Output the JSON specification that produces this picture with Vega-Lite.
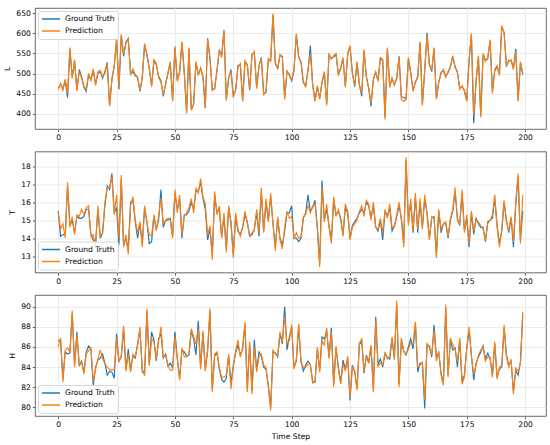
{
  "$schema": "https://vega.github.io/schema/vega-lite/v6.json",
  "padding": {"left": 3, "top": 7, "right": 5, "bottom": 2},
  "bounds": "flush",
  "spacing": 22.5,
  "config": {
    "font": "DejaVu Sans",
    "view": {"stroke": "#444", "strokeWidth": 0.8},
    "axis": {
      "domain": false,
      "labelFont": "DejaVu Sans",
      "labelFontSize": 7.6,
      "labelColor": "#000",
      "labelPadding": 2,
      "labelFlush": false,
      "labelOverlap": false,
      "tickColor": "#444",
      "tickSize": 2.7,
      "tickWidth": 0.8,
      "gridColor": "#e6e6e6",
      "gridWidth": 0.8,
      "titleFont": "DejaVu Sans",
      "titleFontSize": 7.6,
      "titleFontWeight": "normal",
      "titleColor": "#000",
      "titlePadding": 4
    },
    "legend": {
      "title": null,
      "symbolType": "stroke",
      "symbolSize": 324,
      "symbolStrokeWidth": 1.4,
      "labelFont": "DejaVu Sans",
      "labelFontSize": 7.6,
      "labelColor": "#000",
      "labelOffset": 4,
      "fillColor": "rgba(255,255,255,0.8)",
      "strokeColor": "#d6d6d6",
      "cornerRadius": 2,
      "padding": 3,
      "offset": 3,
      "clipHeight": 10,
      "rowPadding": 2
    }
  },
  "resolve": {"scale": {"color": "independent"}, "legend": {"color": "independent"}},
  "datasets": {
    "L": [
      {"t":0,"s":"Ground Truth","v":463},{"t":1,"s":"Ground Truth","v":472},{"t":2,"s":"Ground Truth","v":462},{"t":3,"s":"Ground Truth","v":482},{"t":4,"s":"Ground Truth","v":440},{"t":5,"s":"Ground Truth","v":560},{"t":6,"s":"Ground Truth","v":490},{"t":7,"s":"Ground Truth","v":530},{"t":8,"s":"Ground Truth","v":458},{"t":9,"s":"Ground Truth","v":510},
      {"t":10,"s":"Ground Truth","v":492},{"t":11,"s":"Ground Truth","v":466},{"t":12,"s":"Ground Truth","v":455},{"t":13,"s":"Ground Truth","v":497},{"t":14,"s":"Ground Truth","v":485},{"t":15,"s":"Ground Truth","v":508},{"t":16,"s":"Ground Truth","v":474},{"t":17,"s":"Ground Truth","v":500},{"t":18,"s":"Ground Truth","v":505},{"t":19,"s":"Ground Truth","v":488},
      {"t":20,"s":"Ground Truth","v":505},{"t":21,"s":"Ground Truth","v":528},{"t":22,"s":"Ground Truth","v":420},{"t":23,"s":"Ground Truth","v":485},{"t":24,"s":"Ground Truth","v":518},{"t":25,"s":"Ground Truth","v":585},{"t":26,"s":"Ground Truth","v":460},{"t":27,"s":"Ground Truth","v":595},{"t":28,"s":"Ground Truth","v":543},{"t":29,"s":"Ground Truth","v":578},
      {"t":30,"s":"Ground Truth","v":588},{"t":31,"s":"Ground Truth","v":498},{"t":32,"s":"Ground Truth","v":505},{"t":33,"s":"Ground Truth","v":494},{"t":34,"s":"Ground Truth","v":490},{"t":35,"s":"Ground Truth","v":455},{"t":36,"s":"Ground Truth","v":488},{"t":37,"s":"Ground Truth","v":572},{"t":38,"s":"Ground Truth","v":548},{"t":39,"s":"Ground Truth","v":512},
      {"t":40,"s":"Ground Truth","v":470},{"t":41,"s":"Ground Truth","v":532},{"t":42,"s":"Ground Truth","v":522},{"t":43,"s":"Ground Truth","v":493},{"t":44,"s":"Ground Truth","v":482},{"t":45,"s":"Ground Truth","v":443},{"t":46,"s":"Ground Truth","v":475},{"t":47,"s":"Ground Truth","v":500},{"t":48,"s":"Ground Truth","v":527},{"t":49,"s":"Ground Truth","v":433},
      {"t":50,"s":"Ground Truth","v":565},{"t":51,"s":"Ground Truth","v":483},{"t":52,"s":"Ground Truth","v":502},{"t":53,"s":"Ground Truth","v":577},{"t":54,"s":"Ground Truth","v":503},{"t":55,"s":"Ground Truth","v":403},{"t":56,"s":"Ground Truth","v":562},{"t":57,"s":"Ground Truth","v":410},{"t":58,"s":"Ground Truth","v":422},{"t":59,"s":"Ground Truth","v":527},
      {"t":60,"s":"Ground Truth","v":498},{"t":61,"s":"Ground Truth","v":512},{"t":62,"s":"Ground Truth","v":493},{"t":63,"s":"Ground Truth","v":413},{"t":64,"s":"Ground Truth","v":588},{"t":65,"s":"Ground Truth","v":537},{"t":66,"s":"Ground Truth","v":460},{"t":67,"s":"Ground Truth","v":462},{"t":68,"s":"Ground Truth","v":508},{"t":69,"s":"Ground Truth","v":557},
      {"t":70,"s":"Ground Truth","v":545},{"t":71,"s":"Ground Truth","v":607},{"t":72,"s":"Ground Truth","v":435},{"t":73,"s":"Ground Truth","v":487},{"t":74,"s":"Ground Truth","v":510},{"t":75,"s":"Ground Truth","v":445},{"t":76,"s":"Ground Truth","v":457},{"t":77,"s":"Ground Truth","v":520},{"t":78,"s":"Ground Truth","v":522},{"t":79,"s":"Ground Truth","v":433},
      {"t":80,"s":"Ground Truth","v":528},{"t":81,"s":"Ground Truth","v":523},{"t":82,"s":"Ground Truth","v":458},{"t":83,"s":"Ground Truth","v":548},{"t":84,"s":"Ground Truth","v":552},{"t":85,"s":"Ground Truth","v":465},{"t":86,"s":"Ground Truth","v":517},{"t":87,"s":"Ground Truth","v":540},{"t":88,"s":"Ground Truth","v":450},{"t":89,"s":"Ground Truth","v":452},
      {"t":90,"s":"Ground Truth","v":535},{"t":91,"s":"Ground Truth","v":533},{"t":92,"s":"Ground Truth","v":646},{"t":93,"s":"Ground Truth","v":525},{"t":94,"s":"Ground Truth","v":513},{"t":95,"s":"Ground Truth","v":545},{"t":96,"s":"Ground Truth","v":543},{"t":97,"s":"Ground Truth","v":438},{"t":98,"s":"Ground Truth","v":505},{"t":99,"s":"Ground Truth","v":498},
      {"t":100,"s":"Ground Truth","v":482},{"t":101,"s":"Ground Truth","v":507},{"t":102,"s":"Ground Truth","v":597},{"t":103,"s":"Ground Truth","v":543},{"t":104,"s":"Ground Truth","v":527},{"t":105,"s":"Ground Truth","v":477},{"t":106,"s":"Ground Truth","v":470},{"t":107,"s":"Ground Truth","v":507},{"t":108,"s":"Ground Truth","v":570},{"t":109,"s":"Ground Truth","v":473},
      {"t":110,"s":"Ground Truth","v":433},{"t":111,"s":"Ground Truth","v":467},{"t":112,"s":"Ground Truth","v":438},{"t":113,"s":"Ground Truth","v":477},{"t":114,"s":"Ground Truth","v":502},{"t":115,"s":"Ground Truth","v":424},{"t":116,"s":"Ground Truth","v":547},{"t":117,"s":"Ground Truth","v":538},{"t":118,"s":"Ground Truth","v":542},{"t":119,"s":"Ground Truth","v":547},
      {"t":120,"s":"Ground Truth","v":498},{"t":121,"s":"Ground Truth","v":512},{"t":122,"s":"Ground Truth","v":537},{"t":123,"s":"Ground Truth","v":468},{"t":124,"s":"Ground Truth","v":547},{"t":125,"s":"Ground Truth","v":567},{"t":126,"s":"Ground Truth","v":503},{"t":127,"s":"Ground Truth","v":467},{"t":128,"s":"Ground Truth","v":527},{"t":129,"s":"Ground Truth","v":473},
      {"t":130,"s":"Ground Truth","v":443},{"t":131,"s":"Ground Truth","v":557},{"t":132,"s":"Ground Truth","v":493},{"t":133,"s":"Ground Truth","v":462},{"t":134,"s":"Ground Truth","v":418},{"t":135,"s":"Ground Truth","v":488},{"t":136,"s":"Ground Truth","v":502},{"t":137,"s":"Ground Truth","v":483},{"t":138,"s":"Ground Truth","v":537},{"t":139,"s":"Ground Truth","v":533},
      {"t":140,"s":"Ground Truth","v":390},{"t":141,"s":"Ground Truth","v":562},{"t":142,"s":"Ground Truth","v":468},{"t":143,"s":"Ground Truth","v":487},{"t":144,"s":"Ground Truth","v":473},{"t":145,"s":"Ground Truth","v":486},{"t":146,"s":"Ground Truth","v":543},{"t":147,"s":"Ground Truth","v":442},{"t":148,"s":"Ground Truth","v":440},{"t":149,"s":"Ground Truth","v":437},
      {"t":150,"s":"Ground Truth","v":537},{"t":151,"s":"Ground Truth","v":503},{"t":152,"s":"Ground Truth","v":458},{"t":153,"s":"Ground Truth","v":477},{"t":154,"s":"Ground Truth","v":493},{"t":155,"s":"Ground Truth","v":577},{"t":156,"s":"Ground Truth","v":423},{"t":157,"s":"Ground Truth","v":507},{"t":158,"s":"Ground Truth","v":602},{"t":159,"s":"Ground Truth","v":523},
      {"t":160,"s":"Ground Truth","v":505},{"t":161,"s":"Ground Truth","v":562},{"t":162,"s":"Ground Truth","v":438},{"t":163,"s":"Ground Truth","v":477},{"t":164,"s":"Ground Truth","v":503},{"t":165,"s":"Ground Truth","v":507},{"t":166,"s":"Ground Truth","v":493},{"t":167,"s":"Ground Truth","v":502},{"t":168,"s":"Ground Truth","v":518},{"t":169,"s":"Ground Truth","v":542},
      {"t":170,"s":"Ground Truth","v":518},{"t":171,"s":"Ground Truth","v":502},{"t":172,"s":"Ground Truth","v":463},{"t":173,"s":"Ground Truth","v":467},{"t":174,"s":"Ground Truth","v":458},{"t":175,"s":"Ground Truth","v":433},{"t":176,"s":"Ground Truth","v":532},{"t":177,"s":"Ground Truth","v":597},{"t":178,"s":"Ground Truth","v":375},{"t":179,"s":"Ground Truth","v":483},
      {"t":180,"s":"Ground Truth","v":542},{"t":181,"s":"Ground Truth","v":395},{"t":182,"s":"Ground Truth","v":547},{"t":183,"s":"Ground Truth","v":533},{"t":184,"s":"Ground Truth","v":537},{"t":185,"s":"Ground Truth","v":582},{"t":186,"s":"Ground Truth","v":455},{"t":187,"s":"Ground Truth","v":507},{"t":188,"s":"Ground Truth","v":517},{"t":189,"s":"Ground Truth","v":498},
      {"t":190,"s":"Ground Truth","v":617},{"t":191,"s":"Ground Truth","v":603},{"t":192,"s":"Ground Truth","v":517},{"t":193,"s":"Ground Truth","v":533},{"t":194,"s":"Ground Truth","v":532},{"t":195,"s":"Ground Truth","v":513},{"t":196,"s":"Ground Truth","v":562},{"t":197,"s":"Ground Truth","v":433},{"t":198,"s":"Ground Truth","v":527},{"t":199,"s":"Ground Truth","v":497},
      {"t":0,"s":"Prediction","v":460},{"t":1,"s":"Prediction","v":475},{"t":2,"s":"Prediction","v":458},{"t":3,"s":"Prediction","v":486},{"t":4,"s":"Prediction","v":450},{"t":5,"s":"Prediction","v":565},{"t":6,"s":"Prediction","v":487},{"t":7,"s":"Prediction","v":535},{"t":8,"s":"Prediction","v":456},{"t":9,"s":"Prediction","v":505},
      {"t":10,"s":"Prediction","v":488},{"t":11,"s":"Prediction","v":470},{"t":12,"s":"Prediction","v":460},{"t":13,"s":"Prediction","v":500},{"t":14,"s":"Prediction","v":482},{"t":15,"s":"Prediction","v":512},{"t":16,"s":"Prediction","v":470},{"t":17,"s":"Prediction","v":505},{"t":18,"s":"Prediction","v":508},{"t":19,"s":"Prediction","v":492},
      {"t":20,"s":"Prediction","v":500},{"t":21,"s":"Prediction","v":525},{"t":22,"s":"Prediction","v":418},{"t":23,"s":"Prediction","v":488},{"t":24,"s":"Prediction","v":520},{"t":25,"s":"Prediction","v":588},{"t":26,"s":"Prediction","v":462},{"t":27,"s":"Prediction","v":598},{"t":28,"s":"Prediction","v":548},{"t":29,"s":"Prediction","v":575},
      {"t":30,"s":"Prediction","v":585},{"t":31,"s":"Prediction","v":500},{"t":32,"s":"Prediction","v":512},{"t":33,"s":"Prediction","v":497},{"t":34,"s":"Prediction","v":492},{"t":35,"s":"Prediction","v":457},{"t":36,"s":"Prediction","v":492},{"t":37,"s":"Prediction","v":575},{"t":38,"s":"Prediction","v":545},{"t":39,"s":"Prediction","v":515},
      {"t":40,"s":"Prediction","v":467},{"t":41,"s":"Prediction","v":535},{"t":42,"s":"Prediction","v":525},{"t":43,"s":"Prediction","v":490},{"t":44,"s":"Prediction","v":478},{"t":45,"s":"Prediction","v":447},{"t":46,"s":"Prediction","v":472},{"t":47,"s":"Prediction","v":502},{"t":48,"s":"Prediction","v":530},{"t":49,"s":"Prediction","v":430},
      {"t":50,"s":"Prediction","v":568},{"t":51,"s":"Prediction","v":480},{"t":52,"s":"Prediction","v":505},{"t":53,"s":"Prediction","v":580},{"t":54,"s":"Prediction","v":500},{"t":55,"s":"Prediction","v":400},{"t":56,"s":"Prediction","v":565},{"t":57,"s":"Prediction","v":408},{"t":58,"s":"Prediction","v":425},{"t":59,"s":"Prediction","v":530},
      {"t":60,"s":"Prediction","v":495},{"t":61,"s":"Prediction","v":515},{"t":62,"s":"Prediction","v":490},{"t":63,"s":"Prediction","v":417},{"t":64,"s":"Prediction","v":585},{"t":65,"s":"Prediction","v":540},{"t":66,"s":"Prediction","v":457},{"t":67,"s":"Prediction","v":465},{"t":68,"s":"Prediction","v":505},{"t":69,"s":"Prediction","v":560},
      {"t":70,"s":"Prediction","v":540},{"t":71,"s":"Prediction","v":610},{"t":72,"s":"Prediction","v":432},{"t":73,"s":"Prediction","v":490},{"t":74,"s":"Prediction","v":505},{"t":75,"s":"Prediction","v":440},{"t":76,"s":"Prediction","v":460},{"t":77,"s":"Prediction","v":515},{"t":78,"s":"Prediction","v":525},{"t":79,"s":"Prediction","v":430},
      {"t":80,"s":"Prediction","v":532},{"t":81,"s":"Prediction","v":520},{"t":82,"s":"Prediction","v":462},{"t":83,"s":"Prediction","v":545},{"t":84,"s":"Prediction","v":555},{"t":85,"s":"Prediction","v":462},{"t":86,"s":"Prediction","v":520},{"t":87,"s":"Prediction","v":537},{"t":88,"s":"Prediction","v":447},{"t":89,"s":"Prediction","v":455},
      {"t":90,"s":"Prediction","v":538},{"t":91,"s":"Prediction","v":530},{"t":92,"s":"Prediction","v":650},{"t":93,"s":"Prediction","v":528},{"t":94,"s":"Prediction","v":510},{"t":95,"s":"Prediction","v":548},{"t":96,"s":"Prediction","v":540},{"t":97,"s":"Prediction","v":435},{"t":98,"s":"Prediction","v":508},{"t":99,"s":"Prediction","v":495},
      {"t":100,"s":"Prediction","v":485},{"t":101,"s":"Prediction","v":510},{"t":102,"s":"Prediction","v":600},{"t":103,"s":"Prediction","v":540},{"t":104,"s":"Prediction","v":530},{"t":105,"s":"Prediction","v":480},{"t":106,"s":"Prediction","v":465},{"t":107,"s":"Prediction","v":510},{"t":108,"s":"Prediction","v":550},{"t":109,"s":"Prediction","v":470},
      {"t":110,"s":"Prediction","v":430},{"t":111,"s":"Prediction","v":470},{"t":112,"s":"Prediction","v":435},{"t":113,"s":"Prediction","v":480},{"t":114,"s":"Prediction","v":505},{"t":115,"s":"Prediction","v":420},{"t":116,"s":"Prediction","v":550},{"t":117,"s":"Prediction","v":535},{"t":118,"s":"Prediction","v":545},{"t":119,"s":"Prediction","v":550},
      {"t":120,"s":"Prediction","v":495},{"t":121,"s":"Prediction","v":515},{"t":122,"s":"Prediction","v":540},{"t":123,"s":"Prediction","v":465},{"t":124,"s":"Prediction","v":550},{"t":125,"s":"Prediction","v":570},{"t":126,"s":"Prediction","v":500},{"t":127,"s":"Prediction","v":470},{"t":128,"s":"Prediction","v":530},{"t":129,"s":"Prediction","v":470},
      {"t":130,"s":"Prediction","v":450},{"t":131,"s":"Prediction","v":560},{"t":132,"s":"Prediction","v":490},{"t":133,"s":"Prediction","v":465},{"t":134,"s":"Prediction","v":425},{"t":135,"s":"Prediction","v":485},{"t":136,"s":"Prediction","v":505},{"t":137,"s":"Prediction","v":480},{"t":138,"s":"Prediction","v":540},{"t":139,"s":"Prediction","v":535},
      {"t":140,"s":"Prediction","v":385},{"t":141,"s":"Prediction","v":565},{"t":142,"s":"Prediction","v":465},{"t":143,"s":"Prediction","v":490},{"t":144,"s":"Prediction","v":470},{"t":145,"s":"Prediction","v":490},{"t":146,"s":"Prediction","v":540},{"t":147,"s":"Prediction","v":435},{"t":148,"s":"Prediction","v":430},{"t":149,"s":"Prediction","v":435},
      {"t":150,"s":"Prediction","v":540},{"t":151,"s":"Prediction","v":500},{"t":152,"s":"Prediction","v":455},{"t":153,"s":"Prediction","v":480},{"t":154,"s":"Prediction","v":490},{"t":155,"s":"Prediction","v":580},{"t":156,"s":"Prediction","v":420},{"t":157,"s":"Prediction","v":510},{"t":158,"s":"Prediction","v":595},{"t":159,"s":"Prediction","v":520},
      {"t":160,"s":"Prediction","v":510},{"t":161,"s":"Prediction","v":565},{"t":162,"s":"Prediction","v":435},{"t":163,"s":"Prediction","v":480},{"t":164,"s":"Prediction","v":500},{"t":165,"s":"Prediction","v":510},{"t":166,"s":"Prediction","v":490},{"t":167,"s":"Prediction","v":505},{"t":168,"s":"Prediction","v":515},{"t":169,"s":"Prediction","v":545},
      {"t":170,"s":"Prediction","v":515},{"t":171,"s":"Prediction","v":505},{"t":172,"s":"Prediction","v":460},{"t":173,"s":"Prediction","v":470},{"t":174,"s":"Prediction","v":455},{"t":175,"s":"Prediction","v":430},{"t":176,"s":"Prediction","v":535},{"t":177,"s":"Prediction","v":600},{"t":178,"s":"Prediction","v":395},{"t":179,"s":"Prediction","v":480},
      {"t":180,"s":"Prediction","v":545},{"t":181,"s":"Prediction","v":390},{"t":182,"s":"Prediction","v":550},{"t":183,"s":"Prediction","v":530},{"t":184,"s":"Prediction","v":540},{"t":185,"s":"Prediction","v":585},{"t":186,"s":"Prediction","v":450},{"t":187,"s":"Prediction","v":510},{"t":188,"s":"Prediction","v":520},{"t":189,"s":"Prediction","v":495},
      {"t":190,"s":"Prediction","v":620},{"t":191,"s":"Prediction","v":600},{"t":192,"s":"Prediction","v":520},{"t":193,"s":"Prediction","v":530},{"t":194,"s":"Prediction","v":535},{"t":195,"s":"Prediction","v":510},{"t":196,"s":"Prediction","v":555},{"t":197,"s":"Prediction","v":430},{"t":198,"s":"Prediction","v":530},{"t":199,"s":"Prediction","v":500}
    ],
    "T": [
      {"t":0,"s":"Ground Truth","v":15.5},{"t":1,"s":"Ground Truth","v":14.1},{"t":2,"s":"Ground Truth","v":14.2},{"t":3,"s":"Ground Truth","v":14.2},{"t":4,"s":"Ground Truth","v":16.9},{"t":5,"s":"Ground Truth","v":14.7},{"t":6,"s":"Ground Truth","v":15.0},{"t":7,"s":"Ground Truth","v":14.3},{"t":8,"s":"Ground Truth","v":15.2},{"t":9,"s":"Ground Truth","v":15.1},
      {"t":10,"s":"Ground Truth","v":15.1},{"t":11,"s":"Ground Truth","v":15.2},{"t":12,"s":"Ground Truth","v":15.6},{"t":13,"s":"Ground Truth","v":15.6},{"t":14,"s":"Ground Truth","v":14.2},{"t":15,"s":"Ground Truth","v":13.9},{"t":16,"s":"Ground Truth","v":13.7},{"t":17,"s":"Ground Truth","v":15.6},{"t":18,"s":"Ground Truth","v":14.0},{"t":19,"s":"Ground Truth","v":14.3},
      {"t":20,"s":"Ground Truth","v":15.8},{"t":21,"s":"Ground Truth","v":16.9},{"t":22,"s":"Ground Truth","v":16.7},{"t":23,"s":"Ground Truth","v":17.6},{"t":24,"s":"Ground Truth","v":15.4},{"t":25,"s":"Ground Truth","v":15.7},{"t":26,"s":"Ground Truth","v":13.6},{"t":27,"s":"Ground Truth","v":17.3},{"t":28,"s":"Ground Truth","v":13.6},{"t":29,"s":"Ground Truth","v":14.0},
      {"t":30,"s":"Ground Truth","v":13.4},{"t":31,"s":"Ground Truth","v":16.0},{"t":32,"s":"Ground Truth","v":16.1},{"t":33,"s":"Ground Truth","v":14.9},{"t":34,"s":"Ground Truth","v":14.0},{"t":35,"s":"Ground Truth","v":14.8},{"t":36,"s":"Ground Truth","v":13.7},{"t":37,"s":"Ground Truth","v":15.7},{"t":38,"s":"Ground Truth","v":14.9},{"t":39,"s":"Ground Truth","v":13.7},
      {"t":40,"s":"Ground Truth","v":13.8},{"t":41,"s":"Ground Truth","v":15.2},{"t":42,"s":"Ground Truth","v":14.5},{"t":43,"s":"Ground Truth","v":15.0},{"t":44,"s":"Ground Truth","v":16.7},{"t":45,"s":"Ground Truth","v":14.6},{"t":46,"s":"Ground Truth","v":15.0},{"t":47,"s":"Ground Truth","v":15.0},{"t":48,"s":"Ground Truth","v":15.1},{"t":49,"s":"Ground Truth","v":14.1},
      {"t":50,"s":"Ground Truth","v":16.5},{"t":51,"s":"Ground Truth","v":15.6},{"t":52,"s":"Ground Truth","v":16.2},{"t":53,"s":"Ground Truth","v":14.0},{"t":54,"s":"Ground Truth","v":15.3},{"t":55,"s":"Ground Truth","v":15.3},{"t":56,"s":"Ground Truth","v":15.5},{"t":57,"s":"Ground Truth","v":16.0},{"t":58,"s":"Ground Truth","v":15.6},{"t":59,"s":"Ground Truth","v":16.6},
      {"t":60,"s":"Ground Truth","v":16.6},{"t":61,"s":"Ground Truth","v":17.1},{"t":62,"s":"Ground Truth","v":16.2},{"t":63,"s":"Ground Truth","v":15.6},{"t":64,"s":"Ground Truth","v":13.9},{"t":65,"s":"Ground Truth","v":14.5},{"t":66,"s":"Ground Truth","v":13.1},{"t":67,"s":"Ground Truth","v":16.4},{"t":68,"s":"Ground Truth","v":15.4},{"t":69,"s":"Ground Truth","v":15.6},
      {"t":70,"s":"Ground Truth","v":14.1},{"t":71,"s":"Ground Truth","v":15.2},{"t":72,"s":"Ground Truth","v":13.4},{"t":73,"s":"Ground Truth","v":15.7},{"t":74,"s":"Ground Truth","v":14.9},{"t":75,"s":"Ground Truth","v":13.1},{"t":76,"s":"Ground Truth","v":15.2},{"t":77,"s":"Ground Truth","v":14.4},{"t":78,"s":"Ground Truth","v":14.2},{"t":79,"s":"Ground Truth","v":14.6},
      {"t":80,"s":"Ground Truth","v":15.3},{"t":81,"s":"Ground Truth","v":14.9},{"t":82,"s":"Ground Truth","v":14.1},{"t":83,"s":"Ground Truth","v":14.2},{"t":84,"s":"Ground Truth","v":14.5},{"t":85,"s":"Ground Truth","v":15.4},{"t":86,"s":"Ground Truth","v":14.1},{"t":87,"s":"Ground Truth","v":16.6},{"t":88,"s":"Ground Truth","v":14.4},{"t":89,"s":"Ground Truth","v":16.0},
      {"t":90,"s":"Ground Truth","v":15.0},{"t":91,"s":"Ground Truth","v":16.3},{"t":92,"s":"Ground Truth","v":14.8},{"t":93,"s":"Ground Truth","v":13.5},{"t":94,"s":"Ground Truth","v":15.1},{"t":95,"s":"Ground Truth","v":14.0},{"t":96,"s":"Ground Truth","v":13.6},{"t":97,"s":"Ground Truth","v":14.4},{"t":98,"s":"Ground Truth","v":15.4},{"t":99,"s":"Ground Truth","v":15.4},
      {"t":100,"s":"Ground Truth","v":15.8},{"t":101,"s":"Ground Truth","v":14.0},{"t":102,"s":"Ground Truth","v":14.0},{"t":103,"s":"Ground Truth","v":13.8},{"t":104,"s":"Ground Truth","v":14.0},{"t":105,"s":"Ground Truth","v":15.1},{"t":106,"s":"Ground Truth","v":15.4},{"t":107,"s":"Ground Truth","v":16.4},{"t":108,"s":"Ground Truth","v":15.5},{"t":109,"s":"Ground Truth","v":15.7},
      {"t":110,"s":"Ground Truth","v":16.1},{"t":111,"s":"Ground Truth","v":14.6},{"t":112,"s":"Ground Truth","v":12.6},{"t":113,"s":"Ground Truth","v":17.2},{"t":114,"s":"Ground Truth","v":15.0},{"t":115,"s":"Ground Truth","v":15.6},{"t":116,"s":"Ground Truth","v":14.7},{"t":117,"s":"Ground Truth","v":13.9},{"t":118,"s":"Ground Truth","v":16.1},{"t":119,"s":"Ground Truth","v":15.3},
      {"t":120,"s":"Ground Truth","v":15.5},{"t":121,"s":"Ground Truth","v":15.1},{"t":122,"s":"Ground Truth","v":14.2},{"t":123,"s":"Ground Truth","v":15.7},{"t":124,"s":"Ground Truth","v":15.4},{"t":125,"s":"Ground Truth","v":14.0},{"t":126,"s":"Ground Truth","v":14.7},{"t":127,"s":"Ground Truth","v":14.9},{"t":128,"s":"Ground Truth","v":15.1},{"t":129,"s":"Ground Truth","v":15.4},
      {"t":130,"s":"Ground Truth","v":15.6},{"t":131,"s":"Ground Truth","v":15.4},{"t":132,"s":"Ground Truth","v":16.0},{"t":133,"s":"Ground Truth","v":15.8},{"t":134,"s":"Ground Truth","v":15.1},{"t":135,"s":"Ground Truth","v":15.8},{"t":136,"s":"Ground Truth","v":14.6},{"t":137,"s":"Ground Truth","v":14.4},{"t":138,"s":"Ground Truth","v":15.0},{"t":139,"s":"Ground Truth","v":13.9},
      {"t":140,"s":"Ground Truth","v":15.5},{"t":141,"s":"Ground Truth","v":15.2},{"t":142,"s":"Ground Truth","v":15.7},{"t":143,"s":"Ground Truth","v":14.4},{"t":144,"s":"Ground Truth","v":14.7},{"t":145,"s":"Ground Truth","v":15.2},{"t":146,"s":"Ground Truth","v":15.8},{"t":147,"s":"Ground Truth","v":15.1},{"t":148,"s":"Ground Truth","v":13.7},{"t":149,"s":"Ground Truth","v":18.3},
      {"t":150,"s":"Ground Truth","v":14.9},{"t":151,"s":"Ground Truth","v":16.0},{"t":152,"s":"Ground Truth","v":14.3},{"t":153,"s":"Ground Truth","v":16.3},{"t":154,"s":"Ground Truth","v":14.3},{"t":155,"s":"Ground Truth","v":16.0},{"t":156,"s":"Ground Truth","v":14.6},{"t":157,"s":"Ground Truth","v":16.2},{"t":158,"s":"Ground Truth","v":15.4},{"t":159,"s":"Ground Truth","v":14.0},
      {"t":160,"s":"Ground Truth","v":15.1},{"t":161,"s":"Ground Truth","v":15.2},{"t":162,"s":"Ground Truth","v":13.1},{"t":163,"s":"Ground Truth","v":15.5},{"t":164,"s":"Ground Truth","v":14.3},{"t":165,"s":"Ground Truth","v":14.8},{"t":166,"s":"Ground Truth","v":14.8},{"t":167,"s":"Ground Truth","v":14.0},{"t":168,"s":"Ground Truth","v":15.0},{"t":169,"s":"Ground Truth","v":15.5},
      {"t":170,"s":"Ground Truth","v":16.6},{"t":171,"s":"Ground Truth","v":15.1},{"t":172,"s":"Ground Truth","v":14.7},{"t":173,"s":"Ground Truth","v":16.5},{"t":174,"s":"Ground Truth","v":14.4},{"t":175,"s":"Ground Truth","v":15.1},{"t":176,"s":"Ground Truth","v":13.5},{"t":177,"s":"Ground Truth","v":15.4},{"t":178,"s":"Ground Truth","v":14.2},{"t":179,"s":"Ground Truth","v":15.1},
      {"t":180,"s":"Ground Truth","v":14.8},{"t":181,"s":"Ground Truth","v":14.6},{"t":182,"s":"Ground Truth","v":14.6},{"t":183,"s":"Ground Truth","v":13.8},{"t":184,"s":"Ground Truth","v":14.9},{"t":185,"s":"Ground Truth","v":15.0},{"t":186,"s":"Ground Truth","v":15.1},{"t":187,"s":"Ground Truth","v":16.2},{"t":188,"s":"Ground Truth","v":14.7},{"t":189,"s":"Ground Truth","v":13.7},
      {"t":190,"s":"Ground Truth","v":14.4},{"t":191,"s":"Ground Truth","v":16.0},{"t":192,"s":"Ground Truth","v":15.0},{"t":193,"s":"Ground Truth","v":14.3},{"t":194,"s":"Ground Truth","v":15.1},{"t":195,"s":"Ground Truth","v":13.5},{"t":196,"s":"Ground Truth","v":15.9},{"t":197,"s":"Ground Truth","v":17.4},{"t":198,"s":"Ground Truth","v":13.9},{"t":199,"s":"Ground Truth","v":15.5},
      {"t":0,"s":"Prediction","v":15.4},{"t":1,"s":"Prediction","v":14.5},{"t":2,"s":"Prediction","v":14.8},{"t":3,"s":"Prediction","v":14.0},{"t":4,"s":"Prediction","v":17.1},{"t":5,"s":"Prediction","v":14.6},{"t":6,"s":"Prediction","v":15.2},{"t":7,"s":"Prediction","v":14.2},{"t":8,"s":"Prediction","v":15.3},{"t":9,"s":"Prediction","v":15.2},
      {"t":10,"s":"Prediction","v":15.6},{"t":11,"s":"Prediction","v":15.3},{"t":12,"s":"Prediction","v":15.7},{"t":13,"s":"Prediction","v":15.8},{"t":14,"s":"Prediction","v":14.1},{"t":15,"s":"Prediction","v":14.2},{"t":16,"s":"Prediction","v":13.6},{"t":17,"s":"Prediction","v":15.8},{"t":18,"s":"Prediction","v":14.1},{"t":19,"s":"Prediction","v":14.3},
      {"t":20,"s":"Prediction","v":16.0},{"t":21,"s":"Prediction","v":16.8},{"t":22,"s":"Prediction","v":16.8},{"t":23,"s":"Prediction","v":17.4},{"t":24,"s":"Prediction","v":15.3},{"t":25,"s":"Prediction","v":16.4},{"t":26,"s":"Prediction","v":14.0},{"t":27,"s":"Prediction","v":17.5},{"t":28,"s":"Prediction","v":13.5},{"t":29,"s":"Prediction","v":14.2},
      {"t":30,"s":"Prediction","v":13.1},{"t":31,"s":"Prediction","v":15.8},{"t":32,"s":"Prediction","v":16.3},{"t":33,"s":"Prediction","v":15.0},{"t":34,"s":"Prediction","v":14.3},{"t":35,"s":"Prediction","v":14.9},{"t":36,"s":"Prediction","v":13.5},{"t":37,"s":"Prediction","v":15.8},{"t":38,"s":"Prediction","v":14.8},{"t":39,"s":"Prediction","v":14.2},
      {"t":40,"s":"Prediction","v":14.1},{"t":41,"s":"Prediction","v":15.3},{"t":42,"s":"Prediction","v":14.4},{"t":43,"s":"Prediction","v":15.2},{"t":44,"s":"Prediction","v":16.2},{"t":45,"s":"Prediction","v":14.8},{"t":46,"s":"Prediction","v":15.0},{"t":47,"s":"Prediction","v":15.1},{"t":48,"s":"Prediction","v":15.0},{"t":49,"s":"Prediction","v":14.0},
      {"t":50,"s":"Prediction","v":16.7},{"t":51,"s":"Prediction","v":15.4},{"t":52,"s":"Prediction","v":16.4},{"t":53,"s":"Prediction","v":14.2},{"t":54,"s":"Prediction","v":15.2},{"t":55,"s":"Prediction","v":15.4},{"t":56,"s":"Prediction","v":15.7},{"t":57,"s":"Prediction","v":16.2},{"t":58,"s":"Prediction","v":15.4},{"t":59,"s":"Prediction","v":16.8},
      {"t":60,"s":"Prediction","v":16.5},{"t":61,"s":"Prediction","v":17.3},{"t":62,"s":"Prediction","v":16.3},{"t":63,"s":"Prediction","v":15.9},{"t":64,"s":"Prediction","v":14.2},{"t":65,"s":"Prediction","v":14.7},{"t":66,"s":"Prediction","v":12.8},{"t":67,"s":"Prediction","v":16.6},{"t":68,"s":"Prediction","v":15.3},{"t":69,"s":"Prediction","v":15.8},
      {"t":70,"s":"Prediction","v":14.0},{"t":71,"s":"Prediction","v":15.4},{"t":72,"s":"Prediction","v":13.2},{"t":73,"s":"Prediction","v":15.8},{"t":74,"s":"Prediction","v":14.8},{"t":75,"s":"Prediction","v":12.9},{"t":76,"s":"Prediction","v":15.4},{"t":77,"s":"Prediction","v":14.5},{"t":78,"s":"Prediction","v":14.1},{"t":79,"s":"Prediction","v":14.6},
      {"t":80,"s":"Prediction","v":15.5},{"t":81,"s":"Prediction","v":14.8},{"t":82,"s":"Prediction","v":14.1},{"t":83,"s":"Prediction","v":14.3},{"t":84,"s":"Prediction","v":14.4},{"t":85,"s":"Prediction","v":15.6},{"t":86,"s":"Prediction","v":14.3},{"t":87,"s":"Prediction","v":16.8},{"t":88,"s":"Prediction","v":14.3},{"t":89,"s":"Prediction","v":16.2},
      {"t":90,"s":"Prediction","v":14.9},{"t":91,"s":"Prediction","v":16.5},{"t":92,"s":"Prediction","v":14.8},{"t":93,"s":"Prediction","v":13.3},{"t":94,"s":"Prediction","v":15.2},{"t":95,"s":"Prediction","v":13.9},{"t":96,"s":"Prediction","v":13.4},{"t":97,"s":"Prediction","v":14.6},{"t":98,"s":"Prediction","v":15.5},{"t":99,"s":"Prediction","v":15.1},
      {"t":100,"s":"Prediction","v":15.2},{"t":101,"s":"Prediction","v":14.0},{"t":102,"s":"Prediction","v":14.3},{"t":103,"s":"Prediction","v":14.0},{"t":104,"s":"Prediction","v":14.1},{"t":105,"s":"Prediction","v":15.2},{"t":106,"s":"Prediction","v":15.3},{"t":107,"s":"Prediction","v":15.8},{"t":108,"s":"Prediction","v":15.4},{"t":109,"s":"Prediction","v":15.8},
      {"t":110,"s":"Prediction","v":15.9},{"t":111,"s":"Prediction","v":14.5},{"t":112,"s":"Prediction","v":12.4},{"t":113,"s":"Prediction","v":16.8},{"t":114,"s":"Prediction","v":14.9},{"t":115,"s":"Prediction","v":15.9},{"t":116,"s":"Prediction","v":14.6},{"t":117,"s":"Prediction","v":13.7},{"t":118,"s":"Prediction","v":16.3},{"t":119,"s":"Prediction","v":15.2},
      {"t":120,"s":"Prediction","v":15.6},{"t":121,"s":"Prediction","v":15.0},{"t":122,"s":"Prediction","v":14.1},{"t":123,"s":"Prediction","v":15.9},{"t":124,"s":"Prediction","v":15.5},{"t":125,"s":"Prediction","v":13.9},{"t":126,"s":"Prediction","v":14.6},{"t":127,"s":"Prediction","v":14.8},{"t":128,"s":"Prediction","v":15.0},{"t":129,"s":"Prediction","v":15.5},
      {"t":130,"s":"Prediction","v":15.8},{"t":131,"s":"Prediction","v":15.2},{"t":132,"s":"Prediction","v":16.1},{"t":133,"s":"Prediction","v":15.9},{"t":134,"s":"Prediction","v":15.0},{"t":135,"s":"Prediction","v":16.0},{"t":136,"s":"Prediction","v":14.6},{"t":137,"s":"Prediction","v":14.5},{"t":138,"s":"Prediction","v":15.1},{"t":139,"s":"Prediction","v":14.3},
      {"t":140,"s":"Prediction","v":15.6},{"t":141,"s":"Prediction","v":15.1},{"t":142,"s":"Prediction","v":15.9},{"t":143,"s":"Prediction","v":14.6},{"t":144,"s":"Prediction","v":14.6},{"t":145,"s":"Prediction","v":15.3},{"t":146,"s":"Prediction","v":16.0},{"t":147,"s":"Prediction","v":15.0},{"t":148,"s":"Prediction","v":13.5},{"t":149,"s":"Prediction","v":18.5},
      {"t":150,"s":"Prediction","v":14.7},{"t":151,"s":"Prediction","v":16.2},{"t":152,"s":"Prediction","v":14.4},{"t":153,"s":"Prediction","v":16.5},{"t":154,"s":"Prediction","v":14.5},{"t":155,"s":"Prediction","v":16.2},{"t":156,"s":"Prediction","v":14.5},{"t":157,"s":"Prediction","v":16.4},{"t":158,"s":"Prediction","v":15.3},{"t":159,"s":"Prediction","v":13.9},
      {"t":160,"s":"Prediction","v":15.2},{"t":161,"s":"Prediction","v":15.1},{"t":162,"s":"Prediction","v":12.9},{"t":163,"s":"Prediction","v":15.6},{"t":164,"s":"Prediction","v":14.5},{"t":165,"s":"Prediction","v":14.8},{"t":166,"s":"Prediction","v":14.9},{"t":167,"s":"Prediction","v":14.1},{"t":168,"s":"Prediction","v":15.1},{"t":169,"s":"Prediction","v":15.6},
      {"t":170,"s":"Prediction","v":16.8},{"t":171,"s":"Prediction","v":15.0},{"t":172,"s":"Prediction","v":14.8},{"t":173,"s":"Prediction","v":16.7},{"t":174,"s":"Prediction","v":14.3},{"t":175,"s":"Prediction","v":15.3},{"t":176,"s":"Prediction","v":13.7},{"t":177,"s":"Prediction","v":15.5},{"t":178,"s":"Prediction","v":14.4},{"t":179,"s":"Prediction","v":15.0},
      {"t":180,"s":"Prediction","v":14.9},{"t":181,"s":"Prediction","v":14.7},{"t":182,"s":"Prediction","v":14.5},{"t":183,"s":"Prediction","v":13.9},{"t":184,"s":"Prediction","v":14.8},{"t":185,"s":"Prediction","v":15.0},{"t":186,"s":"Prediction","v":15.3},{"t":187,"s":"Prediction","v":16.4},{"t":188,"s":"Prediction","v":14.6},{"t":189,"s":"Prediction","v":13.5},
      {"t":190,"s":"Prediction","v":14.5},{"t":191,"s":"Prediction","v":16.1},{"t":192,"s":"Prediction","v":14.9},{"t":193,"s":"Prediction","v":14.4},{"t":194,"s":"Prediction","v":15.2},{"t":195,"s":"Prediction","v":13.8},{"t":196,"s":"Prediction","v":16.0},{"t":197,"s":"Prediction","v":17.6},{"t":198,"s":"Prediction","v":13.7},{"t":199,"s":"Prediction","v":16.4}
    ],
    "H": [
      {"t":0,"s":"Ground Truth","v":86.6},{"t":1,"s":"Ground Truth","v":86.7},{"t":2,"s":"Ground Truth","v":82.8},{"t":3,"s":"Ground Truth","v":85.5},{"t":4,"s":"Ground Truth","v":85.3},{"t":5,"s":"Ground Truth","v":85.4},{"t":6,"s":"Ground Truth","v":89.3},{"t":7,"s":"Ground Truth","v":84.2},{"t":8,"s":"Ground Truth","v":87.5},{"t":9,"s":"Ground Truth","v":84.1},
      {"t":10,"s":"Ground Truth","v":84.6},{"t":11,"s":"Ground Truth","v":83.5},{"t":12,"s":"Ground Truth","v":85.5},{"t":13,"s":"Ground Truth","v":86.1},{"t":14,"s":"Ground Truth","v":85.8},{"t":15,"s":"Ground Truth","v":82.2},{"t":16,"s":"Ground Truth","v":84.0},{"t":17,"s":"Ground Truth","v":84.7},{"t":18,"s":"Ground Truth","v":84.9},{"t":19,"s":"Ground Truth","v":85.3},
      {"t":20,"s":"Ground Truth","v":84.4},{"t":21,"s":"Ground Truth","v":83.2},{"t":22,"s":"Ground Truth","v":83.6},{"t":23,"s":"Ground Truth","v":83.5},{"t":24,"s":"Ground Truth","v":82.9},{"t":25,"s":"Ground Truth","v":87.3},{"t":26,"s":"Ground Truth","v":84.6},{"t":27,"s":"Ground Truth","v":85.0},{"t":28,"s":"Ground Truth","v":87.8},{"t":29,"s":"Ground Truth","v":83.8},
      {"t":30,"s":"Ground Truth","v":85.8},{"t":31,"s":"Ground Truth","v":83.7},{"t":32,"s":"Ground Truth","v":85.1},{"t":33,"s":"Ground Truth","v":84.9},{"t":34,"s":"Ground Truth","v":86.3},{"t":35,"s":"Ground Truth","v":87.7},{"t":36,"s":"Ground Truth","v":83.7},{"t":37,"s":"Ground Truth","v":83.4},{"t":38,"s":"Ground Truth","v":89.5},{"t":39,"s":"Ground Truth","v":84.3},
      {"t":40,"s":"Ground Truth","v":87.5},{"t":41,"s":"Ground Truth","v":86.7},{"t":42,"s":"Ground Truth","v":84.6},{"t":43,"s":"Ground Truth","v":86.8},{"t":44,"s":"Ground Truth","v":87.3},{"t":45,"s":"Ground Truth","v":84.9},{"t":46,"s":"Ground Truth","v":85.3},{"t":47,"s":"Ground Truth","v":84.1},{"t":48,"s":"Ground Truth","v":84.4},{"t":49,"s":"Ground Truth","v":83.9},
      {"t":50,"s":"Ground Truth","v":87.5},{"t":51,"s":"Ground Truth","v":84.9},{"t":52,"s":"Ground Truth","v":82.9},{"t":53,"s":"Ground Truth","v":85.7},{"t":54,"s":"Ground Truth","v":85.5},{"t":55,"s":"Ground Truth","v":85.1},{"t":56,"s":"Ground Truth","v":85.2},{"t":57,"s":"Ground Truth","v":87.6},{"t":58,"s":"Ground Truth","v":86.8},{"t":59,"s":"Ground Truth","v":85.2},
      {"t":60,"s":"Ground Truth","v":88.6},{"t":61,"s":"Ground Truth","v":84.0},{"t":62,"s":"Ground Truth","v":87.4},{"t":63,"s":"Ground Truth","v":83.8},{"t":64,"s":"Ground Truth","v":85.6},{"t":65,"s":"Ground Truth","v":89.5},{"t":66,"s":"Ground Truth","v":81.8},{"t":67,"s":"Ground Truth","v":85.1},{"t":68,"s":"Ground Truth","v":85.4},{"t":69,"s":"Ground Truth","v":83.8},
      {"t":70,"s":"Ground Truth","v":82.8},{"t":71,"s":"Ground Truth","v":82.5},{"t":72,"s":"Ground Truth","v":82.9},{"t":73,"s":"Ground Truth","v":85.1},{"t":74,"s":"Ground Truth","v":82.4},{"t":75,"s":"Ground Truth","v":84.2},{"t":76,"s":"Ground Truth","v":85.4},{"t":77,"s":"Ground Truth","v":86.2},{"t":78,"s":"Ground Truth","v":85.2},{"t":79,"s":"Ground Truth","v":85.8},
      {"t":80,"s":"Ground Truth","v":88.2},{"t":81,"s":"Ground Truth","v":81.8},{"t":82,"s":"Ground Truth","v":86.3},{"t":83,"s":"Ground Truth","v":81.6},{"t":84,"s":"Ground Truth","v":86.7},{"t":85,"s":"Ground Truth","v":83.7},{"t":86,"s":"Ground Truth","v":85.5},{"t":87,"s":"Ground Truth","v":85.1},{"t":88,"s":"Ground Truth","v":84.0},{"t":89,"s":"Ground Truth","v":83.8},
      {"t":90,"s":"Ground Truth","v":82.2},{"t":91,"s":"Ground Truth","v":80.0},{"t":92,"s":"Ground Truth","v":85.5},{"t":93,"s":"Ground Truth","v":85.4},{"t":94,"s":"Ground Truth","v":85.0},{"t":95,"s":"Ground Truth","v":87.3},{"t":96,"s":"Ground Truth","v":86.3},{"t":97,"s":"Ground Truth","v":90.0},{"t":98,"s":"Ground Truth","v":85.7},{"t":99,"s":"Ground Truth","v":87.0},
      {"t":100,"s":"Ground Truth","v":88.0},{"t":101,"s":"Ground Truth","v":84.0},{"t":102,"s":"Ground Truth","v":84.6},{"t":103,"s":"Ground Truth","v":88.0},{"t":104,"s":"Ground Truth","v":84.6},{"t":105,"s":"Ground Truth","v":83.6},{"t":106,"s":"Ground Truth","v":84.2},{"t":107,"s":"Ground Truth","v":84.6},{"t":108,"s":"Ground Truth","v":84.2},{"t":109,"s":"Ground Truth","v":82.6},
      {"t":110,"s":"Ground Truth","v":82.5},{"t":111,"s":"Ground Truth","v":85.8},{"t":112,"s":"Ground Truth","v":83.7},{"t":113,"s":"Ground Truth","v":87.0},{"t":114,"s":"Ground Truth","v":86.8},{"t":115,"s":"Ground Truth","v":87.6},{"t":116,"s":"Ground Truth","v":85.0},{"t":117,"s":"Ground Truth","v":87.9},{"t":118,"s":"Ground Truth","v":82.3},{"t":119,"s":"Ground Truth","v":85.9},
      {"t":120,"s":"Ground Truth","v":84.0},{"t":121,"s":"Ground Truth","v":82.5},{"t":122,"s":"Ground Truth","v":84.7},{"t":123,"s":"Ground Truth","v":83.8},{"t":124,"s":"Ground Truth","v":84.9},{"t":125,"s":"Ground Truth","v":80.7},{"t":126,"s":"Ground Truth","v":84.2},{"t":127,"s":"Ground Truth","v":83.5},{"t":128,"s":"Ground Truth","v":81.9},{"t":129,"s":"Ground Truth","v":86.2},
      {"t":130,"s":"Ground Truth","v":86.6},{"t":131,"s":"Ground Truth","v":83.4},{"t":132,"s":"Ground Truth","v":85.2},{"t":133,"s":"Ground Truth","v":84.4},{"t":134,"s":"Ground Truth","v":86.0},{"t":135,"s":"Ground Truth","v":81.8},{"t":136,"s":"Ground Truth","v":89.0},{"t":137,"s":"Ground Truth","v":84.2},{"t":138,"s":"Ground Truth","v":84.8},{"t":139,"s":"Ground Truth","v":84.0},
      {"t":140,"s":"Ground Truth","v":85.3},{"t":141,"s":"Ground Truth","v":85.0},{"t":142,"s":"Ground Truth","v":84.8},{"t":143,"s":"Ground Truth","v":86.8},{"t":144,"s":"Ground Truth","v":84.9},{"t":145,"s":"Ground Truth","v":90.2},{"t":146,"s":"Ground Truth","v":82.3},{"t":147,"s":"Ground Truth","v":86.7},{"t":148,"s":"Ground Truth","v":85.6},{"t":149,"s":"Ground Truth","v":85.2},
      {"t":150,"s":"Ground Truth","v":86.0},{"t":151,"s":"Ground Truth","v":86.8},{"t":152,"s":"Ground Truth","v":85.8},{"t":153,"s":"Ground Truth","v":88.3},{"t":154,"s":"Ground Truth","v":83.5},{"t":155,"s":"Ground Truth","v":84.4},{"t":156,"s":"Ground Truth","v":84.3},{"t":157,"s":"Ground Truth","v":79.9},{"t":158,"s":"Ground Truth","v":86.2},{"t":159,"s":"Ground Truth","v":86.1},
      {"t":160,"s":"Ground Truth","v":85.0},{"t":161,"s":"Ground Truth","v":88.2},{"t":162,"s":"Ground Truth","v":85.0},{"t":163,"s":"Ground Truth","v":85.4},{"t":164,"s":"Ground Truth","v":83.4},{"t":165,"s":"Ground Truth","v":82.4},{"t":166,"s":"Ground Truth","v":89.9},{"t":167,"s":"Ground Truth","v":83.2},{"t":168,"s":"Ground Truth","v":86.7},{"t":169,"s":"Ground Truth","v":85.7},
      {"t":170,"s":"Ground Truth","v":85.9},{"t":171,"s":"Ground Truth","v":84.0},{"t":172,"s":"Ground Truth","v":86.7},{"t":173,"s":"Ground Truth","v":82.6},{"t":174,"s":"Ground Truth","v":83.2},{"t":175,"s":"Ground Truth","v":85.8},{"t":176,"s":"Ground Truth","v":87.7},{"t":177,"s":"Ground Truth","v":85.2},{"t":178,"s":"Ground Truth","v":82.7},{"t":179,"s":"Ground Truth","v":84.4},
      {"t":180,"s":"Ground Truth","v":85.0},{"t":181,"s":"Ground Truth","v":85.5},{"t":182,"s":"Ground Truth","v":86.1},{"t":183,"s":"Ground Truth","v":84.8},{"t":184,"s":"Ground Truth","v":85.4},{"t":185,"s":"Ground Truth","v":84.8},{"t":186,"s":"Ground Truth","v":83.2},{"t":187,"s":"Ground Truth","v":86.3},{"t":188,"s":"Ground Truth","v":83.0},{"t":189,"s":"Ground Truth","v":83.8},
      {"t":190,"s":"Ground Truth","v":84.0},{"t":191,"s":"Ground Truth","v":87.9},{"t":192,"s":"Ground Truth","v":85.2},{"t":193,"s":"Ground Truth","v":84.2},{"t":194,"s":"Ground Truth","v":84.6},{"t":195,"s":"Ground Truth","v":81.6},{"t":196,"s":"Ground Truth","v":83.7},{"t":197,"s":"Ground Truth","v":83.2},{"t":198,"s":"Ground Truth","v":84.5},{"t":199,"s":"Ground Truth","v":89.2},
      {"t":0,"s":"Prediction","v":86.0},{"t":1,"s":"Prediction","v":86.9},{"t":2,"s":"Prediction","v":82.5},{"t":3,"s":"Prediction","v":85.7},{"t":4,"s":"Prediction","v":85.9},{"t":5,"s":"Prediction","v":85.5},{"t":6,"s":"Prediction","v":89.6},{"t":7,"s":"Prediction","v":84.0},{"t":8,"s":"Prediction","v":87.2},{"t":9,"s":"Prediction","v":84.2},
      {"t":10,"s":"Prediction","v":84.5},{"t":11,"s":"Prediction","v":83.3},{"t":12,"s":"Prediction","v":85.3},{"t":13,"s":"Prediction","v":85.6},{"t":14,"s":"Prediction","v":85.9},{"t":15,"s":"Prediction","v":82.6},{"t":16,"s":"Prediction","v":83.8},{"t":17,"s":"Prediction","v":84.8},{"t":18,"s":"Prediction","v":85.7},{"t":19,"s":"Prediction","v":84.8},
      {"t":20,"s":"Prediction","v":84.3},{"t":21,"s":"Prediction","v":84.0},{"t":22,"s":"Prediction","v":83.8},{"t":23,"s":"Prediction","v":83.7},{"t":24,"s":"Prediction","v":83.8},{"t":25,"s":"Prediction","v":86.9},{"t":26,"s":"Prediction","v":84.5},{"t":27,"s":"Prediction","v":85.1},{"t":28,"s":"Prediction","v":88.1},{"t":29,"s":"Prediction","v":83.6},
      {"t":30,"s":"Prediction","v":85.3},{"t":31,"s":"Prediction","v":83.5},{"t":32,"s":"Prediction","v":85.3},{"t":33,"s":"Prediction","v":85.0},{"t":34,"s":"Prediction","v":86.1},{"t":35,"s":"Prediction","v":88.0},{"t":36,"s":"Prediction","v":83.5},{"t":37,"s":"Prediction","v":83.2},{"t":38,"s":"Prediction","v":89.8},{"t":39,"s":"Prediction","v":84.1},
      {"t":40,"s":"Prediction","v":86.8},{"t":41,"s":"Prediction","v":86.5},{"t":42,"s":"Prediction","v":84.8},{"t":43,"s":"Prediction","v":86.5},{"t":44,"s":"Prediction","v":88.0},{"t":45,"s":"Prediction","v":85.0},{"t":46,"s":"Prediction","v":85.2},{"t":47,"s":"Prediction","v":84.2},{"t":48,"s":"Prediction","v":83.7},{"t":49,"s":"Prediction","v":83.7},
      {"t":50,"s":"Prediction","v":87.0},{"t":51,"s":"Prediction","v":84.8},{"t":52,"s":"Prediction","v":82.7},{"t":53,"s":"Prediction","v":85.9},{"t":54,"s":"Prediction","v":85.0},{"t":55,"s":"Prediction","v":85.0},{"t":56,"s":"Prediction","v":85.3},{"t":57,"s":"Prediction","v":87.8},{"t":58,"s":"Prediction","v":87.0},{"t":59,"s":"Prediction","v":86.3},
      {"t":60,"s":"Prediction","v":87.8},{"t":61,"s":"Prediction","v":83.8},{"t":62,"s":"Prediction","v":87.6},{"t":63,"s":"Prediction","v":83.6},{"t":64,"s":"Prediction","v":85.8},{"t":65,"s":"Prediction","v":89.8},{"t":66,"s":"Prediction","v":81.5},{"t":67,"s":"Prediction","v":85.3},{"t":68,"s":"Prediction","v":85.5},{"t":69,"s":"Prediction","v":84.0},
      {"t":70,"s":"Prediction","v":83.0},{"t":71,"s":"Prediction","v":83.0},{"t":72,"s":"Prediction","v":83.2},{"t":73,"s":"Prediction","v":85.3},{"t":74,"s":"Prediction","v":81.8},{"t":75,"s":"Prediction","v":84.0},{"t":76,"s":"Prediction","v":85.6},{"t":77,"s":"Prediction","v":86.7},{"t":78,"s":"Prediction","v":85.0},{"t":79,"s":"Prediction","v":86.0},
      {"t":80,"s":"Prediction","v":88.5},{"t":81,"s":"Prediction","v":81.5},{"t":82,"s":"Prediction","v":86.5},{"t":83,"s":"Prediction","v":81.3},{"t":84,"s":"Prediction","v":86.0},{"t":85,"s":"Prediction","v":83.5},{"t":86,"s":"Prediction","v":85.0},{"t":87,"s":"Prediction","v":85.3},{"t":88,"s":"Prediction","v":84.2},{"t":89,"s":"Prediction","v":84.0},
      {"t":90,"s":"Prediction","v":82.0},{"t":91,"s":"Prediction","v":79.7},{"t":92,"s":"Prediction","v":85.7},{"t":93,"s":"Prediction","v":85.3},{"t":94,"s":"Prediction","v":85.1},{"t":95,"s":"Prediction","v":87.5},{"t":96,"s":"Prediction","v":86.5},{"t":97,"s":"Prediction","v":89.0},{"t":98,"s":"Prediction","v":86.3},{"t":99,"s":"Prediction","v":86.6},
      {"t":100,"s":"Prediction","v":88.2},{"t":101,"s":"Prediction","v":83.8},{"t":102,"s":"Prediction","v":84.8},{"t":103,"s":"Prediction","v":88.3},{"t":104,"s":"Prediction","v":84.4},{"t":105,"s":"Prediction","v":84.0},{"t":106,"s":"Prediction","v":84.0},{"t":107,"s":"Prediction","v":84.3},{"t":108,"s":"Prediction","v":84.3},{"t":109,"s":"Prediction","v":82.4},
      {"t":110,"s":"Prediction","v":82.6},{"t":111,"s":"Prediction","v":86.0},{"t":112,"s":"Prediction","v":83.5},{"t":113,"s":"Prediction","v":86.6},{"t":114,"s":"Prediction","v":86.2},{"t":115,"s":"Prediction","v":87.9},{"t":116,"s":"Prediction","v":84.8},{"t":117,"s":"Prediction","v":87.5},{"t":118,"s":"Prediction","v":82.0},{"t":119,"s":"Prediction","v":86.1},
      {"t":120,"s":"Prediction","v":83.8},{"t":121,"s":"Prediction","v":82.3},{"t":122,"s":"Prediction","v":84.3},{"t":123,"s":"Prediction","v":83.6},{"t":124,"s":"Prediction","v":85.1},{"t":125,"s":"Prediction","v":81.0},{"t":126,"s":"Prediction","v":84.0},{"t":127,"s":"Prediction","v":83.7},{"t":128,"s":"Prediction","v":81.7},{"t":129,"s":"Prediction","v":86.4},
      {"t":130,"s":"Prediction","v":86.8},{"t":131,"s":"Prediction","v":83.6},{"t":132,"s":"Prediction","v":85.0},{"t":133,"s":"Prediction","v":84.5},{"t":134,"s":"Prediction","v":86.2},{"t":135,"s":"Prediction","v":81.5},{"t":136,"s":"Prediction","v":88.6},{"t":137,"s":"Prediction","v":84.0},{"t":138,"s":"Prediction","v":84.4},{"t":139,"s":"Prediction","v":84.2},
      {"t":140,"s":"Prediction","v":85.5},{"t":141,"s":"Prediction","v":84.8},{"t":142,"s":"Prediction","v":85.0},{"t":143,"s":"Prediction","v":87.0},{"t":144,"s":"Prediction","v":84.7},{"t":145,"s":"Prediction","v":90.6},{"t":146,"s":"Prediction","v":82.0},{"t":147,"s":"Prediction","v":86.9},{"t":148,"s":"Prediction","v":85.5},{"t":149,"s":"Prediction","v":85.3},
      {"t":150,"s":"Prediction","v":85.8},{"t":151,"s":"Prediction","v":86.4},{"t":152,"s":"Prediction","v":86.3},{"t":153,"s":"Prediction","v":88.5},{"t":154,"s":"Prediction","v":84.0},{"t":155,"s":"Prediction","v":84.2},{"t":156,"s":"Prediction","v":84.5},{"t":157,"s":"Prediction","v":80.8},{"t":158,"s":"Prediction","v":86.4},{"t":159,"s":"Prediction","v":85.9},
      {"t":160,"s":"Prediction","v":85.2},{"t":161,"s":"Prediction","v":87.6},{"t":162,"s":"Prediction","v":84.6},{"t":163,"s":"Prediction","v":85.6},{"t":164,"s":"Prediction","v":83.2},{"t":165,"s":"Prediction","v":82.2},{"t":166,"s":"Prediction","v":90.2},{"t":167,"s":"Prediction","v":83.0},{"t":168,"s":"Prediction","v":86.9},{"t":169,"s":"Prediction","v":86.3},
      {"t":170,"s":"Prediction","v":85.8},{"t":171,"s":"Prediction","v":84.5},{"t":172,"s":"Prediction","v":86.9},{"t":173,"s":"Prediction","v":82.3},{"t":174,"s":"Prediction","v":83.0},{"t":175,"s":"Prediction","v":86.0},{"t":176,"s":"Prediction","v":88.0},{"t":177,"s":"Prediction","v":85.0},{"t":178,"s":"Prediction","v":83.3},{"t":179,"s":"Prediction","v":84.2},
      {"t":180,"s":"Prediction","v":85.2},{"t":181,"s":"Prediction","v":85.7},{"t":182,"s":"Prediction","v":86.0},{"t":183,"s":"Prediction","v":84.6},{"t":184,"s":"Prediction","v":85.0},{"t":185,"s":"Prediction","v":85.0},{"t":186,"s":"Prediction","v":83.0},{"t":187,"s":"Prediction","v":86.5},{"t":188,"s":"Prediction","v":82.8},{"t":189,"s":"Prediction","v":84.0},
      {"t":190,"s":"Prediction","v":84.2},{"t":191,"s":"Prediction","v":88.2},{"t":192,"s":"Prediction","v":85.0},{"t":193,"s":"Prediction","v":84.0},{"t":194,"s":"Prediction","v":84.8},{"t":195,"s":"Prediction","v":81.3},{"t":196,"s":"Prediction","v":83.9},{"t":197,"s":"Prediction","v":83.6},{"t":198,"s":"Prediction","v":84.3},{"t":199,"s":"Prediction","v":89.5}
    ]
  },
  "vconcat": [
    {
      "width": 511,
      "height": 121,
      "data": {"name": "L"},
      "encoding": {
        "x": {"field": "t", "type": "quantitative", "scale": {"domain": [-9.95, 208.95], "nice": false, "zero": false}, "axis": {"values": [0, 25, 50, 75, 100, 125, 150, 175, 200], "title": null}},
        "y": {"field": "v", "type": "quantitative", "scale": {"domain": [361.25, 663.75], "nice": false, "zero": false}, "axis": {"values": [400, 450, 500, 550, 600, 650], "title": "L"}},
        "color": {"field": "s", "type": "nominal", "scale": {"domain": ["Ground Truth", "Prediction"], "range": ["#1f77b4", "#ff7f0e"]}, "legend": {"orient": "top-left", "title": null}}
      },
      "layer": [
        {"transform": [{"filter": "datum.s == 'Ground Truth'"}], "mark": {"type": "line", "strokeWidth": 1.15}},
        {"transform": [{"filter": "datum.s == 'Prediction'"}], "mark": {"type": "line", "strokeWidth": 1.15}}
      ]
    },
    {
      "width": 511,
      "height": 121,
      "data": {"name": "T"},
      "encoding": {
        "x": {"field": "t", "type": "quantitative", "scale": {"domain": [-9.95, 208.95], "nice": false, "zero": false}, "axis": {"values": [0, 25, 50, 75, 100, 125, 150, 175, 200], "title": null}},
        "y": {"field": "v", "type": "quantitative", "scale": {"domain": [12.095, 18.805], "nice": false, "zero": false}, "axis": {"values": [13, 14, 15, 16, 17, 18], "title": "T"}},
        "color": {"field": "s", "type": "nominal", "scale": {"domain": ["Ground Truth", "Prediction"], "range": ["#1f77b4", "#ff7f0e"]}, "legend": {"orient": "bottom-left", "title": null}}
      },
      "layer": [
        {"transform": [{"filter": "datum.s == 'Ground Truth'"}], "mark": {"type": "line", "strokeWidth": 1.15}},
        {"transform": [{"filter": "datum.s == 'Prediction'"}], "mark": {"type": "line", "strokeWidth": 1.15}}
      ]
    },
    {
      "width": 511,
      "height": 121,
      "data": {"name": "H"},
      "encoding": {
        "x": {"field": "t", "type": "quantitative", "scale": {"domain": [-9.95, 208.95], "nice": false, "zero": false}, "axis": {"values": [0, 25, 50, 75, 100, 125, 150, 175, 200], "title": "Time Step"}},
        "y": {"field": "v", "type": "quantitative", "scale": {"domain": [79.15, 91.15], "nice": false, "zero": false}, "axis": {"values": [80, 82, 84, 86, 88, 90], "title": "H"}},
        "color": {"field": "s", "type": "nominal", "scale": {"domain": ["Ground Truth", "Prediction"], "range": ["#1f77b4", "#ff7f0e"]}, "legend": {"orient": "bottom-left", "title": null}}
      },
      "layer": [
        {"transform": [{"filter": "datum.s == 'Ground Truth'"}], "mark": {"type": "line", "strokeWidth": 1.15}},
        {"transform": [{"filter": "datum.s == 'Prediction'"}], "mark": {"type": "line", "strokeWidth": 1.15}}
      ]
    }
  ]
}
